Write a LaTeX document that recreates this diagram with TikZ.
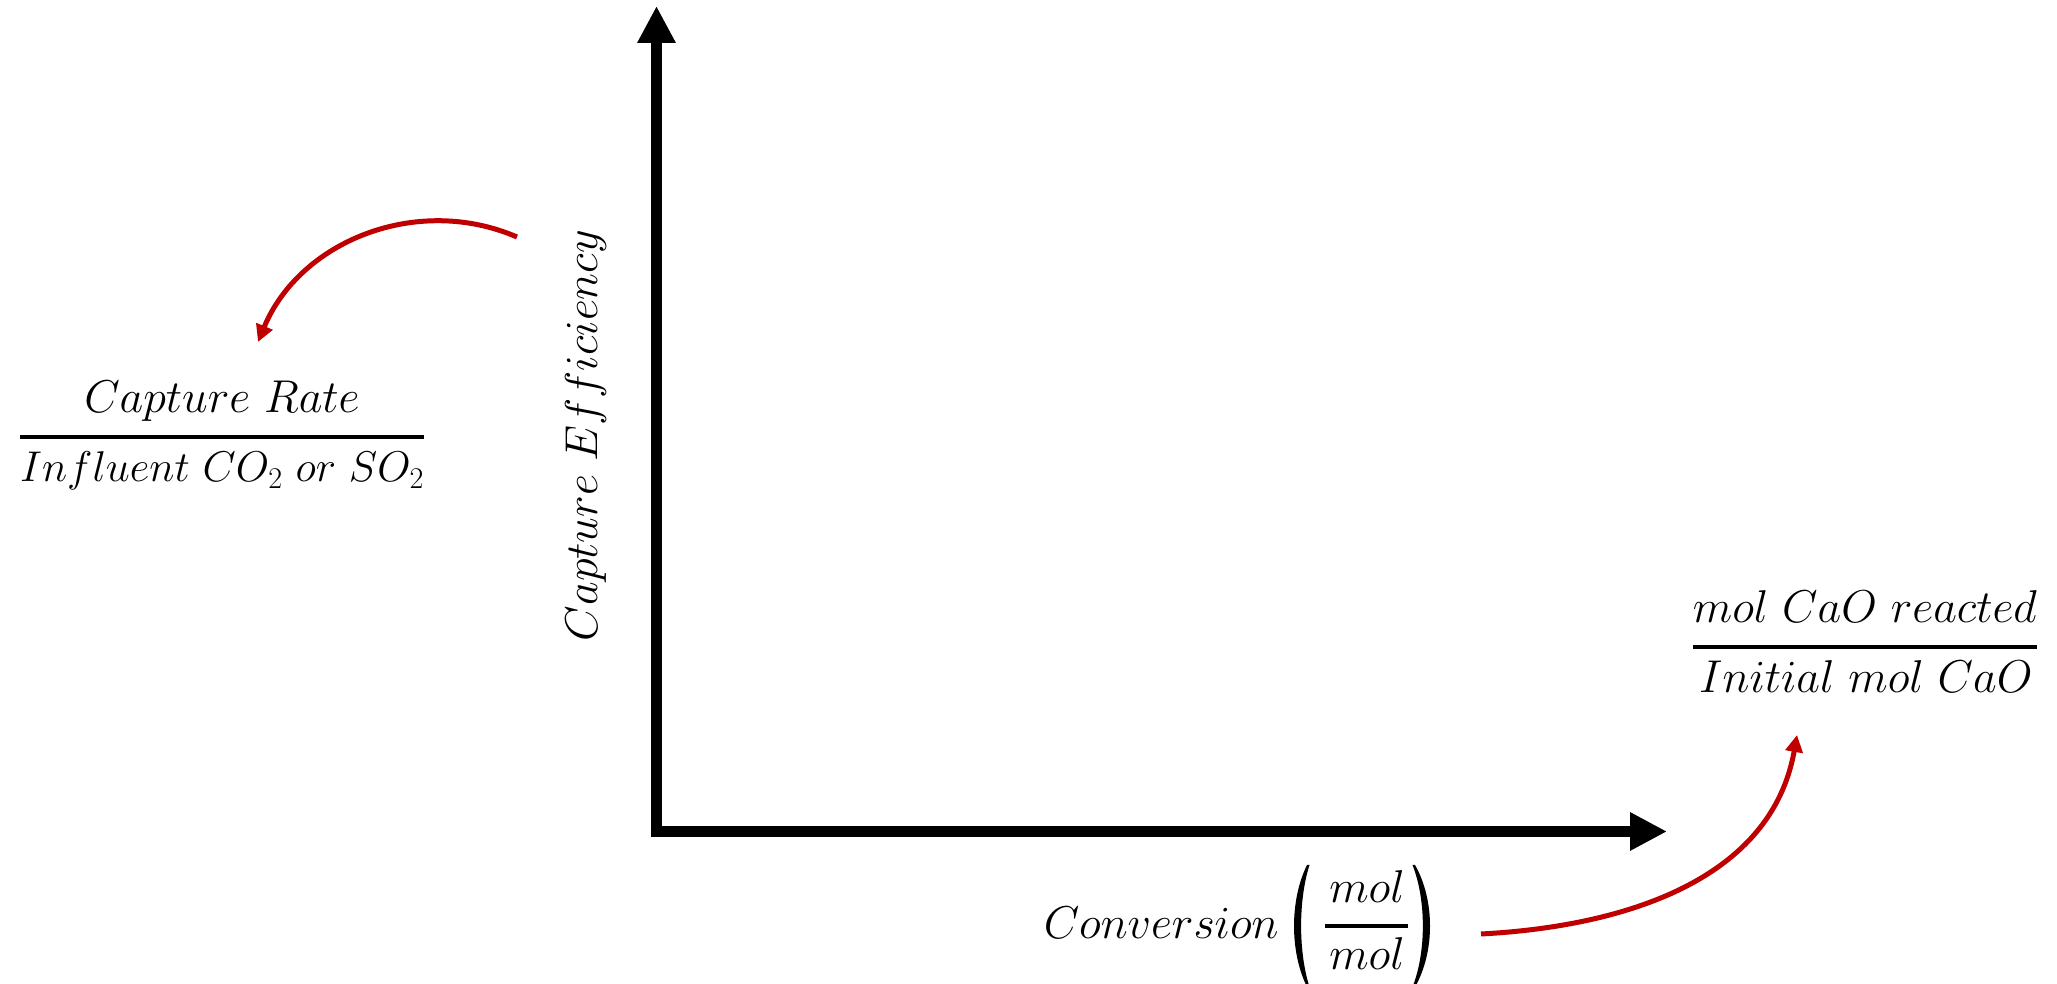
\RequirePackage{fix-cm}
\documentclass[tikz,border=0pt]{standalone}
\usetikzlibrary{arrows.meta}
\definecolor{capred}{RGB}{192,0,0}
\begin{document}
\begin{tikzpicture}[x=1pt,y=1pt,
  axis/.style={line width=11.5pt,-{Triangle[width=36pt,length=37pt]}},
  note/.style={line width=5pt,capred,-{Triangle[width=17pt,length=17pt]}},
  lbl/.style={inner sep=0pt,anchor=base,font=\fontsize{46}{60}\selectfont},
  fracrule/.style={line width=3.5pt}]
\useasboundingbox (0,0) rectangle (2057,984);

% axes
\coordinate (origin) at (651,152.5);
\coordinate (ybase) at (656.5,147);
\coordinate (ytip) at (656.5,978);
\coordinate (xtip) at (1667,152.5);
\draw[axis] (ybase) -- (ytip);
\draw[axis] (origin) -- (xtip);

% vertical axis title
\node[lbl,rotate=90] (ylab) at (597,548.5) {$Capture\ Efficiency$};

% definition of capture efficiency
\node[lbl] (lnum) at (222,571) {$Capture\ Rate$};
\node[lbl,font=\fontsize{43}{60}\selectfont] (lden) at (222,502) {$Influent\ CO_2\ or\ SO_2$};
\coordinate (lbar) at (222,547);
\draw[fracrule] (lden.west |- lbar) -- (lden.east |- lbar);

% definition of conversion
\node[lbl] (rnum) at (1865,361) {$mol\ CaO\ reacted$};
\node[lbl] (rden) at (1866,291) {$Initial\ mol\ CaO$};
\coordinate (rbar) at (1866,337);
\draw[fracrule] (rnum.west |- rbar) -- (rnum.east |- rbar);

% horizontal axis title with its unit mol/mol in parentheses
\node[lbl,anchor=base east] (xlab) at (1279,45) {$Conversion$};
\node[lbl] (unum) at (1367,81) {$mol$};
\node[lbl] (uden) at (1367,14) {$mol$};
\coordinate (ubar) at (1366.5,58);
\draw[fracrule] ([xshift=-41.5pt]ubar) -- ([xshift=41.5pt]ubar);
\fill (1307,119) .. controls (1289.7,84) and (1289.7,32) .. (1307,-3)
  -- (1309.5,-3) .. controls (1298.3,32) and (1298.3,84) .. (1309.5,119) -- cycle;
\fill (1415,119) .. controls (1435,84) and (1435,32) .. (1415,-3)
  -- (1412.5,-3) .. controls (1426.3,32) and (1426.3,84) .. (1412.5,119) -- cycle;

% pointers from the axis titles to their definitions
\coordinate (a1s) at (517,747);
\coordinate (a1e) at (258,642);
\draw[note] (a1s) to[out=156.6,in=67.5] (a1e);
\coordinate (a2s) at (1481,50);
\coordinate (a2e) at (1797,249);
\draw[note] (a2s) to[out=3,in=260] (a2e);
\end{tikzpicture}
\end{document}
